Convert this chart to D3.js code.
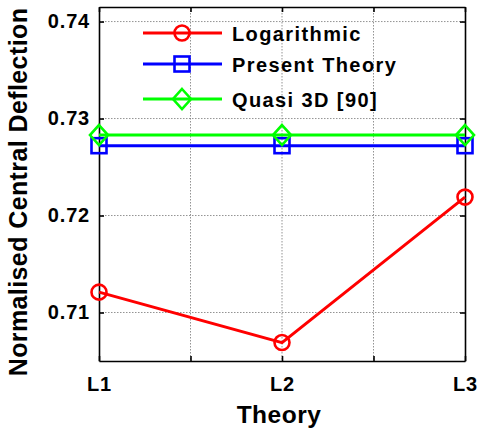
<!DOCTYPE html>
<html>
<head>
<meta charset="utf-8">
<script src="https://cdn.jsdelivr.net/npm/d3@7"></script>
<style>
  html, body { margin: 0; padding: 0; background: #fff; }
  svg { display: block; font-family: "Liberation Sans", Arial, sans-serif; font-weight: bold; }
</style>
</head>
<body>
<svg id="chart" width="483" height="430"></svg>
<script>
// Laminate theories on the x axis
const categories = ["L1", "L2", "L3"];
// Normalised central deflection per theory
const logarithmic = [0.7121, 0.7069, 0.7219];
const presentTheory = [0.7272, 0.7272, 0.7272];
const quasi3D = [0.7283, 0.7283, 0.7283];
const yTicks = [0.71, 0.72, 0.73, 0.74];
const seriesNames = ["Logarithmic", "Present Theory", "Quasi 3D [90]"];

const svg = d3.select("#chart");
const plotLeft = 99, plotRight = 465, plotTop = 7, plotBottom = 361;

const x = d3.scaleLinear().domain([1, 3]).range([plotLeft, plotRight]);
const y = d3.scaleLinear().domain([0.705, 0.7415]).range([plotBottom, plotTop]);
const xGrid = [1, 1.5, 2, 2.5, 3];

// dotted grid
const grid = svg.append("g");
grid.selectAll(".gx").data(xGrid.slice(1, -1)).join("line")
  .attr("x1", d => x(d)).attr("x2", d => x(d))
  .attr("y1", plotTop).attr("y2", plotBottom)
  .attr("stroke", "#777").attr("stroke-width", 0.8).attr("stroke-dasharray", "1.5,1.5");
grid.selectAll(".gy").data(yTicks).join("line")
  .attr("x1", plotLeft).attr("x2", plotRight)
  .attr("y1", d => y(d)).attr("y2", d => y(d))
  .attr("stroke", "#777").attr("stroke-width", 0.8).attr("stroke-dasharray", "1.5,1.5");

// axes (box with inward ticks on all sides)
const axB = d3.axisBottom(x).tickValues(xGrid).tickSizeInner(-5).tickSizeOuter(0)
  .tickFormat(d => Number.isInteger(d) ? categories[d - 1] : "");
const axT = d3.axisTop(x).tickValues(xGrid).tickSizeInner(-5).tickSizeOuter(0).tickFormat("");
const axL = d3.axisLeft(y).tickValues(yTicks).tickSizeInner(-5).tickSizeOuter(0)
  .tickFormat(d3.format(".2f"));
const axR = d3.axisRight(y).tickValues(yTicks).tickSizeInner(-5).tickSizeOuter(0).tickFormat("");

function styleAxis(g) {
  g.select(".domain").attr("stroke", "#000").attr("stroke-width", 1.6);
  g.selectAll(".tick line").attr("stroke", "#000").attr("stroke-width", 1.6);
  g.selectAll(".tick text").attr("fill", "#000").attr("font-size", 20)
    .attr("letter-spacing", 0.8)
    .attr("font-family", "Liberation Sans, Arial, sans-serif").attr("font-weight", "bold");
}
svg.append("g").attr("transform", `translate(0,${plotBottom})`).call(axB).call(styleAxis)
  .selectAll(".tick text").attr("y", 30).attr("dy", 0);
svg.append("g").attr("transform", `translate(0,${plotTop})`).call(axT).call(styleAxis);
svg.append("g").attr("transform", `translate(${plotLeft},0)`).call(axL).call(styleAxis)
  .selectAll(".tick text").attr("x", -9);
svg.append("g").attr("transform", `translate(${plotRight},0)`).call(axR).call(styleAxis);

// axis titles
svg.append("text").attr("x", 279).attr("y", 423)
  .attr("text-anchor", "middle").attr("font-size", 24.5).attr("letter-spacing", 0.5).text("Theory");
svg.append("text").attr("transform", `translate(27,192) rotate(-90)`)
  .attr("text-anchor", "middle").attr("font-size", 25).attr("letter-spacing", 0.4)
  .text("Normalised Central Deflection");

// marker drawers
const markers = {
  circle: (g, cx, cy, c) => g.append("circle").attr("cx", cx).attr("cy", cy).attr("r", 7.5)
    .attr("fill", "none").attr("stroke", c).attr("stroke-width", 2.6),
  square: (g, cx, cy, c) => g.append("rect").attr("x", cx - 7.5).attr("y", cy - 7.5)
    .attr("width", 15).attr("height", 15)
    .attr("fill", "none").attr("stroke", c).attr("stroke-width", 2.6),
  diamond: (g, cx, cy, c) => g.append("path")
    .attr("d", `M${cx},${cy - 10}L${cx + 9},${cy}L${cx},${cy + 10}L${cx - 9},${cy}Z`)
    .attr("fill", "none").attr("stroke", c).attr("stroke-width", 2.6)
};

const series = [
  { name: seriesNames[0], values: logarithmic, color: "#ff0000", marker: "circle" },
  { name: seriesNames[1], values: presentTheory, color: "#0000ff", marker: "square" },
  { name: seriesNames[2], values: quasi3D, color: "#00ff00", marker: "diamond" }
];

const line = d3.line().x((d, i) => x(i + 1)).y(d => y(d));
const plot = svg.append("g");
series.forEach(s => {
  plot.append("path").datum(s.values).attr("d", line)
    .attr("fill", "none").attr("stroke", s.color).attr("stroke-width", 3);
  s.values.forEach((v, i) => markers[s.marker](plot, x(i + 1), y(v), s.color));
});

// legend
const legY = [33, 64, 99];
const legend = svg.append("g");
series.forEach((s, i) => {
  legend.append("line").attr("x1", 143).attr("x2", 222).attr("y1", legY[i]).attr("y2", legY[i])
    .attr("stroke", s.color).attr("stroke-width", 3);
  markers[s.marker](legend, 182, legY[i], s.color);
  legend.append("text").attr("x", 232).attr("y", legY[i] + 8)
    .attr("font-size", 20).attr("letter-spacing", 1.4).text(s.name);
});
</script>
</body>
</html>
